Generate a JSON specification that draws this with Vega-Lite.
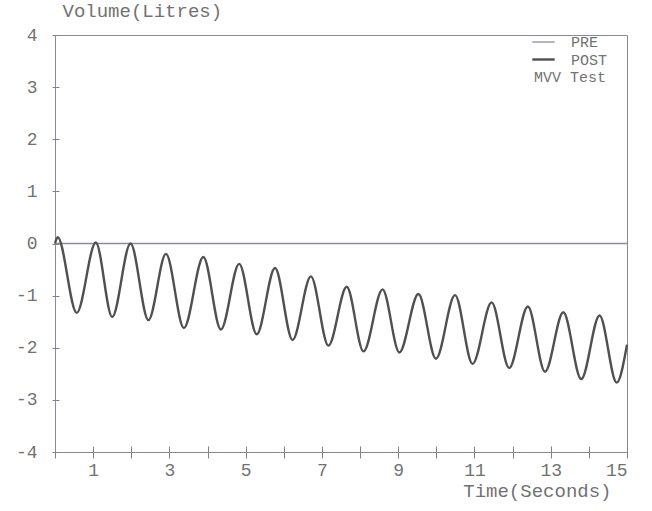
{
  "$schema": "https://vega.github.io/schema/vega-lite/v6.json",
  "width": 572,
  "height": 417,
  "autosize": "none",
  "padding": {"left": 55, "top": 35, "right": 25, "bottom": 59},
  "background": "white",
  "config": {
    "view": {"stroke": "#8a8a96", "strokeWidth": 1},
    "font": "Liberation Mono",
    "axis": {
      "domainColor": "#8a8a96",
      "domainWidth": 1,
      "tickColor": "#80808c",
      "tickWidth": 1,
      "grid": false,
      "labelFont": "Liberation Mono",
      "labelFontSize": 18,
      "labelColor": "#727272",
      "titleFont": "Liberation Mono",
      "titleFontSize": 19,
      "titleFontWeight": "normal",
      "titleColor": "#727272"
    }
  },
  "data": {
    "values": [
      {"t": 0.0, "v": 0.0, "series": "PRE"},
      {"t": 15.0, "v": 0.0, "series": "PRE"},
      {"t": 0.0, "v": 0.0, "series": "POST"},
      {"t": 0.07, "v": 0.12, "series": "POST"},
      {"t": 0.57, "v": -1.33, "series": "POST"},
      {"t": 1.07, "v": 0.02, "series": "POST"},
      {"t": 1.5, "v": -1.41, "series": "POST"},
      {"t": 1.98, "v": 0.0, "series": "POST"},
      {"t": 2.45, "v": -1.47, "series": "POST"},
      {"t": 2.91, "v": -0.2, "series": "POST"},
      {"t": 3.38, "v": -1.62, "series": "POST"},
      {"t": 3.89, "v": -0.26, "series": "POST"},
      {"t": 4.35, "v": -1.65, "series": "POST"},
      {"t": 4.83, "v": -0.39, "series": "POST"},
      {"t": 5.29, "v": -1.74, "series": "POST"},
      {"t": 5.77, "v": -0.47, "series": "POST"},
      {"t": 6.23, "v": -1.85, "series": "POST"},
      {"t": 6.71, "v": -0.63, "series": "POST"},
      {"t": 7.17, "v": -1.96, "series": "POST"},
      {"t": 7.65, "v": -0.83, "series": "POST"},
      {"t": 8.09, "v": -2.07, "series": "POST"},
      {"t": 8.59, "v": -0.88, "series": "POST"},
      {"t": 9.03, "v": -2.09, "series": "POST"},
      {"t": 9.53, "v": -0.97, "series": "POST"},
      {"t": 9.99, "v": -2.21, "series": "POST"},
      {"t": 10.49, "v": -0.99, "series": "POST"},
      {"t": 10.95, "v": -2.31, "series": "POST"},
      {"t": 11.45, "v": -1.13, "series": "POST"},
      {"t": 11.91, "v": -2.39, "series": "POST"},
      {"t": 12.4, "v": -1.21, "series": "POST"},
      {"t": 12.85, "v": -2.46, "series": "POST"},
      {"t": 13.33, "v": -1.32, "series": "POST"},
      {"t": 13.8, "v": -2.6, "series": "POST"},
      {"t": 14.28, "v": -1.38, "series": "POST"},
      {"t": 14.73, "v": -2.67, "series": "POST"},
      {"t": 15.0, "v": -1.94, "series": "POST"}
    ]
  },
  "layer": [
    {
      "mark": {"type": "line", "interpolate": "monotone"},
      "encoding": {
        "x": {
          "field": "t",
          "type": "quantitative",
          "scale": {"domain": [0, 15], "nice": false, "zero": false},
          "axis": {
            "values": [0, 1, 2, 3, 4, 5, 6, 7, 8, 9, 10, 11, 12, 13, 14, 15],
            "labelExpr": "datum.value % 2 == 1 ? '' + datum.value : ''",
            "tickSize": 6,
            "labelPadding": 3,
            "title": "Time(Seconds)",
            "titleAnchor": null,
            "titleAlign": "right",
            "titleBaseline": "alphabetic",
            "titleX": 556,
            "titleY": 44
          }
        },
        "y": {
          "field": "v",
          "type": "quantitative",
          "scale": {"domain": [-4, 4], "nice": false, "zero": false},
          "axis": {
            "values": [-4, -3, -2, -1, 0, 1, 2, 3, 4],
            "labelExpr": "'' + datum.value",
            "tickSize": 3,
            "labelPadding": 15,
            "title": "Volume(Litres)",
            "titleAngle": 0,
            "titleAnchor": null,
            "titleAlign": "left",
            "titleBaseline": "alphabetic",
            "titleX": 7,
            "titleY": -19
          }
        },
        "color": {
          "field": "series",
          "type": "nominal",
          "scale": {"domain": ["PRE", "POST"], "range": ["#8a8aa6", "#505050"]},
          "legend": {
            "orient": "none",
            "legendX": 479,
            "legendY": -2,
            "title": "MVV Test",
            "titleOrient": "bottom",
            "titleAnchor": "start",
            "titleFont": "Liberation Mono",
            "titleFontSize": 15,
            "titleFontWeight": "normal",
            "titleColor": "#727272",
            "titlePadding": 2,
            "labelFont": "Liberation Mono",
            "labelFontSize": 15,
            "labelColor": "#727272",
            "labelOffset": 18,
            "symbolType": "M-1.4,0H1.4",
            "symbolSize": 256,
            "symbolStrokeWidth": 1.2,
            "padding": 0,
            "rowPadding": 0
          }
        },
        "strokeWidth": {
          "field": "series",
          "type": "nominal",
          "scale": {"domain": ["PRE", "POST"], "range": [1.3, 2.4]},
          "legend": null
        }
      }
    },
    {
      "mark": {"type": "line", "opacity": 0},
      "encoding": {
        "x": {
          "field": "t",
          "type": "quantitative",
          "axis": {
            "orient": "bottom",
            "values": [0, 1, 2, 3, 4, 5, 6, 7, 8, 9, 10, 11, 12, 13, 14, 15],
            "tickSize": -6,
            "labels": false,
            "domain": false,
            "title": null
          }
        },
        "y": {
          "field": "v",
          "type": "quantitative",
          "axis": {
            "orient": "left",
            "values": [-4, -3, -2, -1, 0, 1, 2, 3, 4],
            "tickSize": -4,
            "labels": false,
            "domain": false,
            "title": null
          }
        }
      }
    }
  ],
  "resolve": {"axis": {"x": "independent", "y": "independent"}}
}
